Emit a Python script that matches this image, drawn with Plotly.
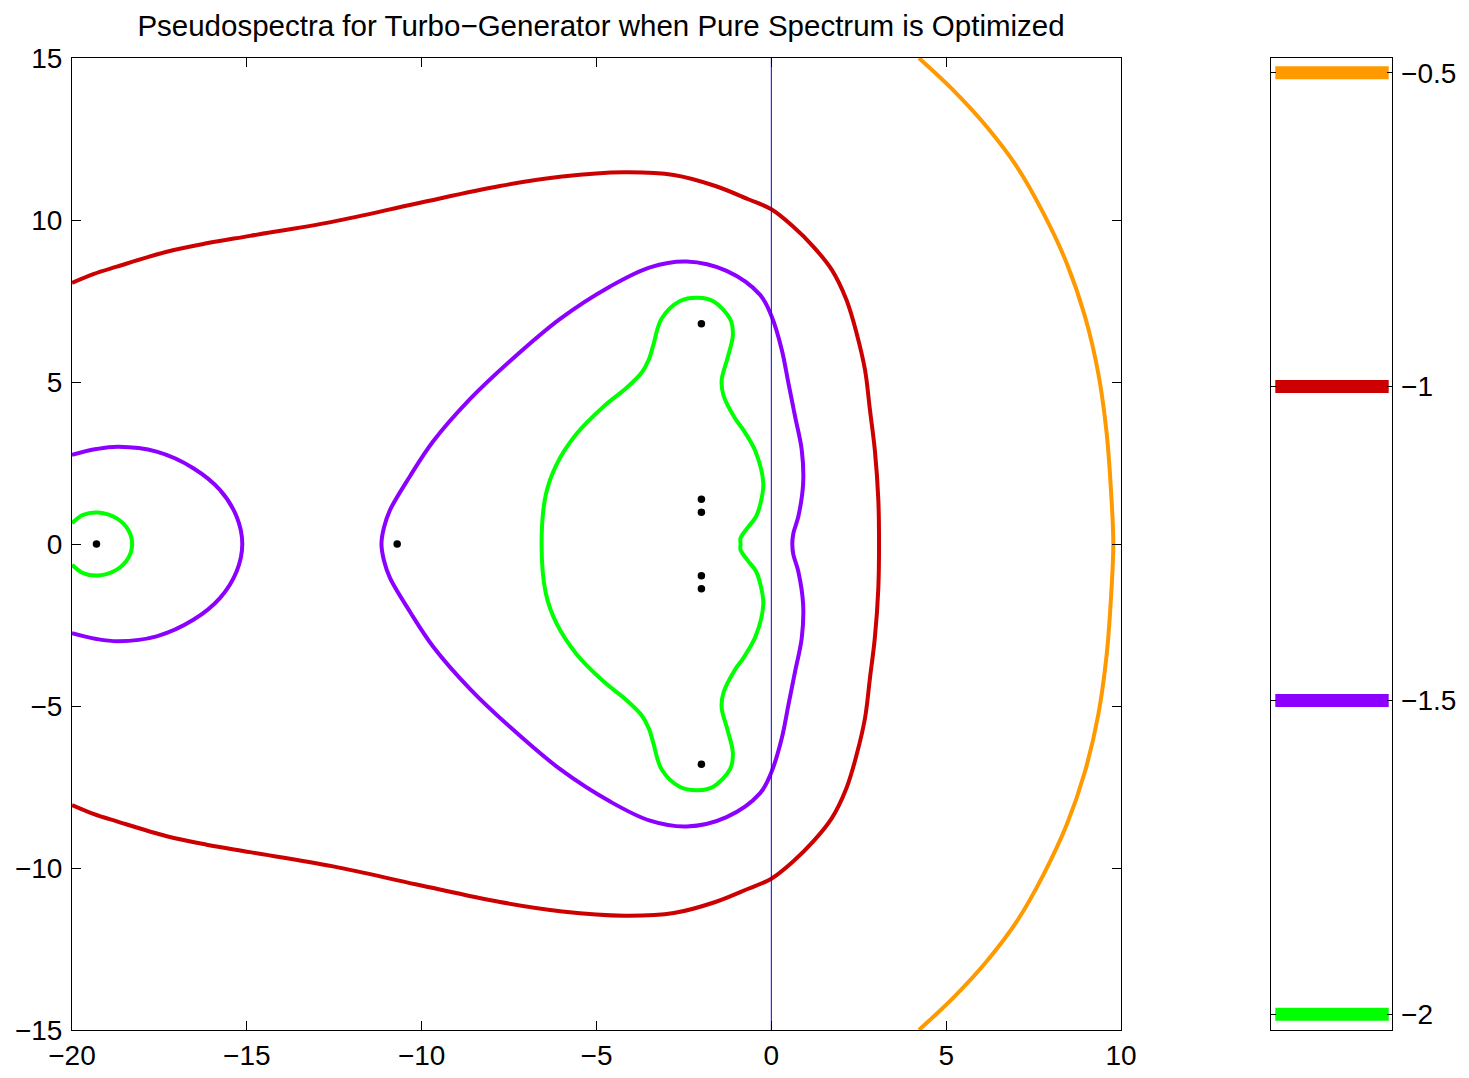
import plotly.graph_objects as go

# Contour levels (log10 of epsilon) and their colours
levels = [-0.5, -1.0, -1.5, -2.0]
level_colors = ["#ff9900", "#cc0000", "#8c00ff", "#00ff00"]

# epsilon = 10^-0.5 (orange arc on the right)
c05_x = [4.22, 5.20, 6.16, 7.02, 7.78, 8.45, 8.97, 9.35, 9.59, 9.73, 9.78,
         9.73, 9.59, 9.35, 8.97, 8.45, 7.78, 7.02, 6.16, 5.20, 4.22]
c05_y = [15.0, 14.01, 12.88, 11.65, 10.21, 8.66, 7.02, 5.27, 3.42, 1.36, 0.0,
         -1.36, -3.42, -5.27, -7.02, -8.66, -10.21, -11.65, -12.88, -14.01, -15.0]

# epsilon = 10^-1 (red)
c10_x = [-20.0, -19.39, -18.72, -17.29, -16.15, -14.91, -12.53, -10.14, -7.76, -5.98,
         -4.21, -2.79, -1.60, -0.66, 0.0, 0.63, 1.20, 1.73, 2.15, 2.44, 2.68, 2.82,
         2.96, 3.06, 3.08,
         3.06, 2.96, 2.82, 2.68, 2.44, 2.15, 1.73, 1.20, 0.63, 0.0, -0.66, -1.60,
         -2.79, -4.21, -5.98, -7.76, -10.14, -12.53, -14.91, -16.15, -17.29, -18.72,
         -19.39, -20.0]
c10_y = [8.06, 8.33, 8.56, 9.02, 9.28, 9.51, 9.95, 10.51, 11.05, 11.34,
         11.47, 11.39, 11.05, 10.64, 10.33, 9.79, 9.18, 8.46, 7.53, 6.50, 5.37, 4.14,
         2.90, 1.36, 0.0,
         -1.36, -2.90, -4.14, -5.37, -6.50, -7.53, -8.46, -9.18, -9.79, -10.33, -10.64, -11.05,
         -11.39, -11.47, -11.34, -11.05, -10.51, -9.95, -9.51, -9.28, -9.02, -8.56,
         -8.33, -8.06]

# epsilon = 10^-1.5 (purple): left oval and main lobe
c15a_x = [-20.0, -19.3, -18.68, -17.58, -16.53, -15.77, -15.29, -15.13,
          -15.29, -15.77, -16.53, -17.58, -18.68, -19.3, -20.0]
c15a_y = [2.75, 2.93, 3.0, 2.85, 2.34, 1.67, 0.84, 0.0,
          -0.84, -1.67, -2.34, -2.85, -3.0, -2.93, -2.75]

c15b_x = [-11.15, -11.08, -10.91, -10.33, -9.67, -8.62, -7.47, -6.04, -4.61, -3.47,
          -2.42, -1.28, -0.32, 0.01, 0.30, 0.49, 0.68, 0.87, 0.91, 0.77, 0.63, 0.60,
          0.63, 0.77, 0.91, 0.87, 0.68, 0.49, 0.30, 0.01, -0.32, -1.28,
          -2.42, -3.47, -4.61, -6.04, -7.47, -8.62, -9.67, -10.33, -10.91, -11.08, -11.15]
c15b_y = [0.0, 0.5, 1.04, 2.10, 3.17, 4.47, 5.65, 6.95, 7.95, 8.54,
          8.72, 8.43, 7.69, 7.02, 5.99, 4.96, 3.93, 2.90, 1.87, 0.84, 0.33, 0.0,
          -0.33, -0.84, -1.87, -2.90, -3.93, -4.96, -5.99, -7.02, -7.69, -8.43,
          -8.72, -8.54, -7.95, -6.95, -5.65, -4.47, -3.17, -2.10, -1.04, -0.5, 0.0]

# epsilon = 10^-2 (green): small circle and main lobe (traced from the notch)
c20a_x = [-20.0, -19.68, -19.25, -18.72, -18.39, -18.28,
          -18.39, -18.72, -19.25, -19.68, -20.0]
c20a_y = [0.64, 0.90, 0.97, 0.79, 0.43, 0.0,
          -0.43, -0.79, -0.97, -0.90, -0.64]

c20b_x = [-0.88, -0.88, -0.66, -0.44, -0.30, -0.23, -0.45, -0.80, -1.04, -1.37, -1.42,
          -1.25, -1.10, -1.18, -1.66, -2.09, -2.61, -3.14, -3.38, -3.50, -3.70, -4.14,
          -4.81, -5.57, -6.14, -6.45, -6.57,
          -6.45, -6.14, -5.57, -4.81, -4.14, -3.70, -3.50, -3.38, -3.14, -2.61, -2.09,
          -1.66, -1.18, -1.10, -1.25, -1.42, -1.37, -1.04, -0.80, -0.45, -0.23, -0.30,
          -0.44, -0.66, -0.88, -0.88]
c20b_y = [0.0, 0.18, 0.53, 0.84, 1.30, 1.88, 2.85, 3.52, 3.88, 4.59, 5.06,
          5.75, 6.45, 6.95, 7.49, 7.60, 7.50, 6.95, 6.12, 5.70, 5.30, 4.82,
          4.23, 3.40, 2.46, 1.52, 0.0,
          -1.52, -2.46, -3.40, -4.23, -4.82, -5.30, -5.70, -6.12, -6.95, -7.50, -7.60,
          -7.49, -6.95, -6.45, -5.75, -5.06, -4.59, -3.88, -3.52, -2.85, -1.88, -1.30,
          -0.84, -0.53, -0.18, 0.0]

# Eigenvalues
eig_re = [-19.3, -10.7, -2.0, -2.0, -2.0, -2.0, -2.0, -2.0]
eig_im = [0.0, 0.0, 6.8, 1.38, 0.98, -0.98, -1.38, -6.8]

# Axis ticks
x_ticks = [-20, -15, -10, -5, 0, 5, 10]
y_ticks = [-15, -10, -5, 0, 5, 10, 15]

W, H = 1469, 1078
FONT = "Liberation Sans, Arial, Helvetica, sans-serif"

fig = go.Figure()

curves = [
    (c05_x, c05_y, level_colors[0]),
    (c10_x, c10_y, level_colors[1]),
    (c15a_x, c15a_y, level_colors[2]),
    (c15b_x, c15b_y, level_colors[2]),
    (c20a_x, c20a_y, level_colors[3]),
    (c20b_x, c20b_y, level_colors[3]),
]
for cx, cy, col in curves:
    fig.add_trace(go.Scatter(x=cx, y=cy, mode="lines",
                             line=dict(color=col, width=4, shape="spline", smoothing=1.0),
                             hoverinfo="skip"))

# imaginary axis
fig.add_trace(go.Scatter(x=[0, 0], y=[y_ticks[0], y_ticks[-1]], mode="lines",
                         line=dict(color="#0000ff", width=1), hoverinfo="skip"))

fig.add_trace(go.Scatter(x=eig_re, y=eig_im, mode="markers",
                         marker=dict(color="black", size=7.5)))

# colour bar: one thick line per level
for lev, col in zip(levels, level_colors):
    fig.add_trace(go.Scatter(x=[0.038, 0.977], y=[lev, lev], mode="lines",
                             line=dict(color=col, width=13),
                             xaxis="x2", yaxis="y2", hoverinfo="skip"))

ydom = [1 - 1030 / H, 1 - 58 / H]
axis_common = dict(showline=True, linecolor="black", linewidth=1, showgrid=False,
                   zeroline=False, ticks="inside", tickcolor="black", tickwidth=1,
                   mirror="ticks", automargin=False,
                   tickfont=dict(family=FONT, size=28, color="black"))

fig.update_layout(
    width=W, height=H,
    margin=dict(l=0, r=0, t=0, b=0, autoexpand=False),
    paper_bgcolor="white", plot_bgcolor="white",
    showlegend=False,
    font=dict(family=FONT, size=28, color="black"),
    title=dict(text="Pseudospectra for Turbo\u2212Generator when Pure Spectrum is Optimized",
               x=601 / W, xanchor="center", y=1 - 26 / H, yanchor="middle",
               font=dict(family=FONT, size=29.5, color="black"), automargin=False),
    xaxis=dict(domain=[72 / W, 1121 / W], range=[-20, 10], tickvals=x_ticks,
               ticklen=9, ticklabelstandoff=0, **axis_common),
    yaxis=dict(domain=ydom, range=[-15, 15], tickvals=y_ticks,
               ticklen=9, ticklabelstandoff=3, **axis_common),
    xaxis2=dict(domain=[1270.7 / W, 1391.5 / W], range=[0, 1], anchor="y2",
                showline=True, linecolor="black", linewidth=1, mirror=True,
                showgrid=False, zeroline=False, showticklabels=False, ticks="",
                automargin=False),
    yaxis2=dict(domain=ydom, range=[-2.025, -0.4765], anchor="x2", side="right",
                tickvals=levels, ticklen=5, ticklabelstandoff=3, **axis_common),
)

fig.write_html("out.html")
